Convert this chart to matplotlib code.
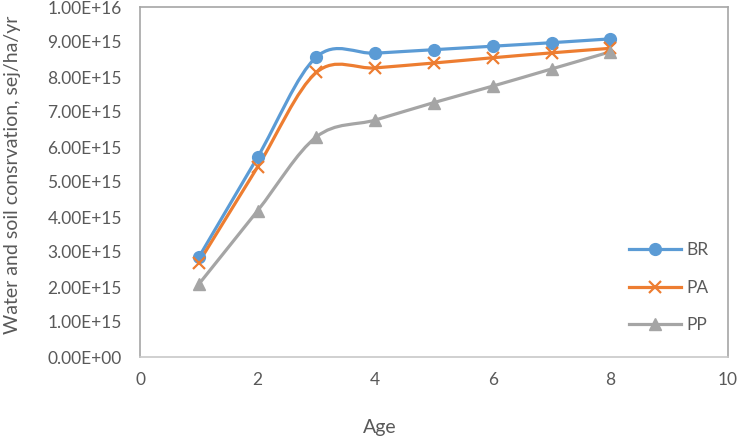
import numpy as np
import matplotlib.pyplot as plt
from matplotlib.path import Path
from matplotlib.patches import PathPatch
from matplotlib.lines import Line2D

plt.rcParams['font.family'] = ['Lato', 'DejaVu Sans']

age = [1, 2, 3, 4, 5, 6, 7, 8]
br = [2.85e15, 5.71e15, 8.57e15, 8.68e15, 8.78e15, 8.88e15, 8.98e15, 9.09e15]
pa = [2.70e15, 5.43e15, 8.13e15, 8.26e15, 8.40e15, 8.55e15, 8.69e15, 8.82e15]
pp = [2.08e15, 4.18e15, 6.29e15, 6.77e15, 7.27e15, 7.74e15, 8.23e15, 8.72e15]
ytick_labels = ['0.00E+00', '1.00E+15', '2.00E+15', '3.00E+15', '4.00E+15', '5.00E+15',
                '6.00E+15', '7.00E+15', '8.00E+15', '9.00E+15', '1.00E+16']

names = ['BR', 'PA', 'PP']
colors = ['#5B9BD5', '#ED7D31', '#A5A5A5']
markers = ['o', 'x', '^']
msizes = [8.5, 8, 8.5]


def smooth_path(x, y):
    # Excel-like smoothed line: cubic bezier segments (catmull-rom)
    pts = np.column_stack([x, y])
    n = len(pts)
    verts = [pts[0]]
    codes = [Path.MOVETO]
    for i in range(n - 1):
        p0 = pts[i - 1] if i > 0 else pts[i]
        p1 = pts[i]
        p2 = pts[i + 1]
        p3 = pts[i + 2] if i + 2 < n else pts[i + 1]
        c1 = p1 + (p2 - p0) / 6
        c2 = p2 - (p3 - p1) / 6
        verts += [c1, c2, p2]
        codes += [Path.CURVE4] * 3
    return Path(verts, codes)


fig = plt.figure(figsize=(7.37, 4.38), dpi=100)
ax = fig.add_axes([140 / 737, 1 - 357 / 438, 588 / 737, 350 / 438])

handles = []
for name, vals, c, m, ms in zip(names, [br, pa, pp], colors, markers, msizes):
    patch = PathPatch(smooth_path(age, vals), facecolor='none', edgecolor=c,
                      lw=2.3, capstyle='round', joinstyle='round')
    ax.add_patch(patch)
    ax.plot(age, vals, linestyle='none', marker=m, color=c, markersize=ms,
            markeredgewidth=1.6 if m == 'x' else 1)
    handles.append(Line2D([], [], color=c, lw=2.3, marker=m, markersize=ms,
                          markeredgewidth=1.6 if m == 'x' else 1))

ax.set_xlim(0, 10)
ax.set_ylim(0, 1e16)
ax.set_xticks(range(0, 11, 2))
ax.set_yticks(np.arange(0, 1.01e16, 1e15))
ax.set_yticklabels(ytick_labels)
ax.tick_params(length=0, labelsize=12.5, labelcolor='#595959')
ax.tick_params(axis='y', pad=13)
ax.tick_params(axis='x', pad=11)
for s in ['top', 'right', 'left']:
    ax.spines[s].set_color('#a6a6a6')
ax.spines['bottom'].set_color('#c8c8c8')
for s in ax.spines.values():
    s.set_linewidth(1.2)

leg = ax.legend(handles, names, loc='upper left', bbox_to_anchor=(482 / 588, 122 / 350),
                frameon=False, fontsize=12.5, labelspacing=1.25, handlelength=3.0,
                handletextpad=0.3, borderaxespad=0)
for t in leg.get_texts():
    t.set_color('#595959')

fig.text(380 / 737, 1 - 428 / 438, 'Age', ha='center', va='center', fontsize=14, color='#595959')
fig.text(13 / 737, 1 - 175 / 438, 'Water and soil consrvation, sej/ha/yr', rotation=90,
         ha='center', va='center', fontsize=14, color='#595959')

fig.savefig('out.png', dpi=100)
